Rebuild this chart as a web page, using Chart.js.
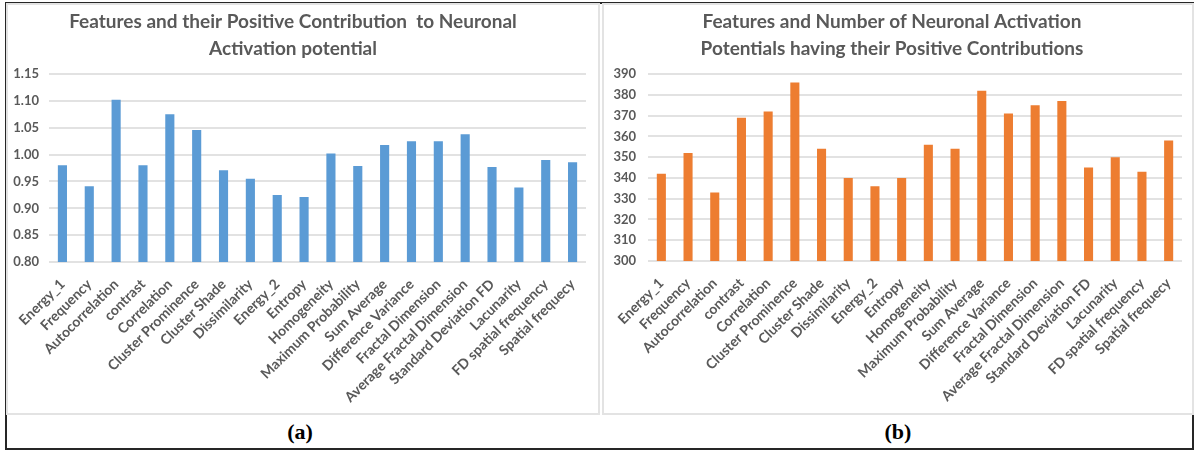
<!DOCTYPE html>
<html>
<head>
<meta charset="utf-8">
<script src="https://cdn.jsdelivr.net/npm/chart.js@4"></script>
<style>
  body { margin: 0; background: #fff; }
  #page { position: relative; width: 1197px; height: 452px; overflow: hidden; }
  .frame { position: absolute; left: 5px; top: 2px; width: 1189px; height: 448px; border: 2px solid #262626; box-sizing: border-box; }
  .panel { position: absolute; top: 3px; height: 412px; border: 2px solid #e3e3e3; box-sizing: border-box; }
  #panelA { left: 6px; width: 594px; }
  #panelB { left: 602px; width: 592px; }
  canvas { position: absolute; top: 0; }
  #chartA { left: 0; }
  #chartB { left: 602px; }
  .caption { position: absolute; top: 419px; font: bold 22px "Liberation Serif", "Times New Roman", serif; color: #000; text-align: center; }
  #capA { left: 0; width: 600px; }
  #capB { left: 602px; width: 592px; }
</style>
</head>
<body>
<div id="page">
  <div class="frame"></div>
  <div class="panel" id="panelA"></div>
  <div class="panel" id="panelB"></div>
  <canvas id="chartA" width="600" height="415"></canvas>
  <canvas id="chartB" width="592" height="415"></canvas>
  <div class="caption" id="capA">(a)</div>
  <div class="caption" id="capB">(b)</div>
</div>
<script>
const features = [
    'Energy_1', 'Frequency', 'Autocorrelation', 'contrast', 'Correlation',
    'Cluster Prominence', 'Cluster Shade', 'Dissimilarity', 'Energy_2', 'Entropy',
    'Homogeneity', 'Maximum Probability', 'Sum Average', 'Difference Variance',
    'Fractal Dimension', 'Average Fractal Dimension', 'Standard Deviation FD',
    'Lacunarity', 'FD spatial frequency', 'Spatial frequecy'
];

// positive contribution to neuronal activation potential
const contribution = [
    0.980, 0.941, 1.102, 0.980, 1.075, 1.046, 0.971, 0.955, 0.925, 0.921,
    1.002, 0.979, 1.018, 1.025, 1.025, 1.038, 0.977, 0.939, 0.990, 0.986
];

// number of activation potentials with a positive contribution
const potentialCount = [
    342, 352, 333, 369, 372, 386, 354, 340, 336, 340,
    356, 354, 382, 371, 375, 377, 345, 350, 343, 358
];

const contributionTicks = [0.80, 0.85, 0.90, 0.95, 1.00, 1.05, 1.10, 1.15];
const countTicks = [300, 310, 320, 330, 340, 350, 360, 370, 380, 390];

const titleA = ['Features and their Positive Contribution  to Neuronal', 'Activation potential'];
const titleB = ['Features and Number of Neuronal Activation', 'Potentials having their Positive Contributions'];

const textGray = '#595959';
const gridGray = '#e2e2e2';

function buildChart(canvas, opts) {
    return new Chart(canvas, {
        type: 'bar',
        data: {
            labels: features,
            datasets: [{
                data: opts.values,
                backgroundColor: opts.color,
                borderWidth: 0,
                categoryPercentage: 1,
                barPercentage: 0.34
            }]
        },
        options: {
            responsive: false,
            animation: false,
            layout: { padding: { left: 0, right: opts.padRight, top: 0, bottom: 0 } },
            plugins: {
                legend: { display: false },
                tooltip: { enabled: false },
                title: {
                    display: true,
                    text: opts.title,
                    color: textGray,
                    font: { family: 'Lato', size: 19, weight: 'bold', lineHeight: 1.45 },
                    padding: { top: 8, bottom: 11 }
                }
            },
            scales: {
                x: {
                    grid: { display: false },
                    border: { display: false },
                    ticks: {
                        color: textGray,
                        font: { family: 'Lato', size: 14, weight: 'bold' },
                        autoSkip: false,
                        minRotation: 45,
                        maxRotation: 45,
                        padding: 6
                    },
                    afterFit: axis => { axis.height = opts.xAxisHeight; }
                },
                y: {
                    min: opts.ticks[0],
                    max: opts.ticks[opts.ticks.length - 1],
                    grid: { color: gridGray, lineWidth: 2, drawTicks: false },
                    border: { display: false },
                    ticks: {
                        color: textGray,
                        font: { family: 'Lato', size: 13, weight: 'bold' },
                        padding: opts.tickPad,
                        callback: v => opts.format(v)
                    },
                    afterBuildTicks: axis => { axis.ticks = opts.ticks.map(v => ({ value: v })); },
                    afterFit: axis => { axis.width = opts.yAxisWidth; }
                }
            }
        }
    });
}

document.addEventListener('DOMContentLoaded', function () {
    buildChart(document.getElementById('chartA'), {
        values: contribution,
        ticks: contributionTicks,
        title: titleA,
        color: '#5B9BD5',
        format: v => v.toFixed(2),
        yAxisWidth: 49,
        tickPad: 10,
        padRight: 14,
        xAxisHeight: 153
    });
    buildChart(document.getElementById('chartB'), {
        values: potentialCount,
        ticks: countTicks,
        title: titleB,
        color: '#ED7D31',
        format: v => String(v),
        yAxisWidth: 46,
        tickPad: 12,
        padRight: 12,
        xAxisHeight: 154
    });
});
</script>
</body>
</html>
